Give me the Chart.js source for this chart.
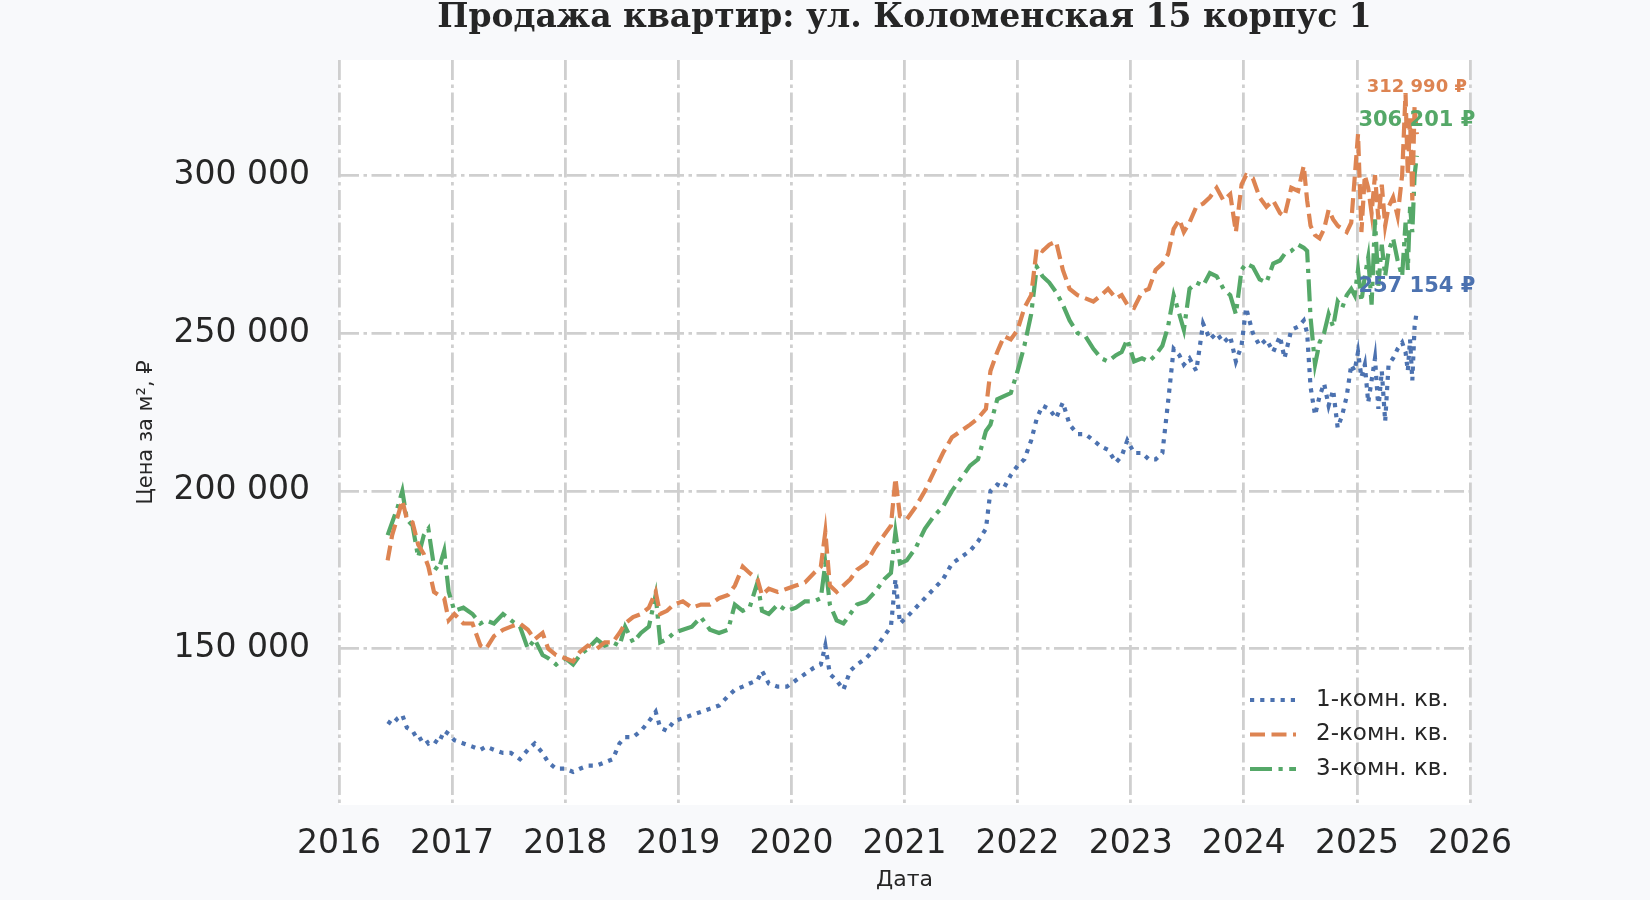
<!DOCTYPE html>
<html>
<head>
<meta charset="utf-8">
<title>Продажа квартир</title>
<script src="https://cdn.jsdelivr.net/npm/chart.js@4.4.0/dist/chart.umd.min.js"></script>
<style>
    body { margin: 0; background: #f8f9fb; }
    canvas { display: block; }
</style>
</head>
<body>
<canvas id="chart" width="1650" height="900"></canvas>
<script>
// chart text
const chart_title = "Продажа квартир: ул. Коломенская 15 корпус 1";
const x_title = "Дата";
const y_title = "Цена за м², ₽";
const series_names = ["1-комн. кв.", "2-комн. кв.", "3-комн. кв."];

// ticks
const year_ticks = [2016, 2017, 2018, 2019, 2020, 2021, 2022, 2023, 2024, 2025, 2026];
const price_ticks = [150000, 200000, 250000, 300000];

// dates as decimal years
const dates = [
    2016.43,2016.47,2016.52,2016.56,2016.60,2016.65,2016.70,2016.75,2016.79,2016.84,2016.88,2016.93,2016.97,
    2017.02,2017.10,2017.18,2017.25,2017.30,2017.37,2017.45,2017.52,2017.60,2017.67,2017.73,2017.80,2017.85,2017.92,
    2018.00,2018.07,2018.13,2018.20,2018.28,2018.35,2018.42,2018.48,2018.53,2018.60,2018.67,2018.74,2018.80,2018.84,2018.90,2018.96,
    2019.04,2019.12,2019.20,2019.28,2019.36,2019.44,2019.50,2019.57,2019.63,2019.70,2019.74,2019.80,2019.88,2019.96,
    2020.04,2020.12,2020.20,2020.26,2020.30,2020.34,2020.40,2020.46,2020.52,2020.58,2020.66,2020.74,2020.82,2020.88,2020.92,2020.96,
    2021.02,2021.10,2021.18,2021.26,2021.34,2021.42,2021.50,2021.58,2021.65,2021.72,2021.76,2021.82,2021.88,2021.94,
    2022.00,2022.06,2022.12,2022.17,2022.22,2022.28,2022.34,2022.40,2022.46,2022.53,2022.60,2022.67,2022.74,2022.80,2022.87,2022.92,2022.97,
    2023.03,2023.10,2023.16,2023.22,2023.28,2023.33,2023.38,2023.43,2023.47,2023.52,2023.58,2023.64,2023.70,2023.76,2023.82,2023.88,2023.93,2023.98,
    2024.02,2024.08,2024.14,2024.20,2024.26,2024.32,2024.36,2024.42,2024.48,2024.53,2024.56,2024.59,2024.63,2024.67,2024.71,2024.75,2024.79,2024.83,2024.87,2024.91,2024.95,2024.98,
    2025.01,2025.04,2025.07,2025.10,2025.13,2025.16,2025.19,2025.22,2025.25,2025.28,2025.32,2025.36,2025.40,2025.43,2025.45,2025.47,2025.49,2025.51,2025.53
];

// price per m2, 1 room
const one_room = [
    127000,126000,128000,129000,125000,124000,121000,122000,120000,121000,120000,124000,123000,
    121000,120000,119000,118000,119000,118000,117000,117000,115000,118000,120000,117000,114000,112000,
    112000,111000,112000,113000,113000,114000,115000,120000,122000,122000,124000,127000,130000,125000,124000,127000,
    128000,129000,130000,131000,132000,135000,137000,138000,139000,140000,143000,139000,138000,138000,
    140000,142000,144000,145000,151000,142000,140000,137000,143000,145000,147000,150000,154000,157000,172000,158000,
    160000,163000,166000,169000,172000,177000,179000,181000,184000,188000,200000,202000,201000,205000,
    208000,210000,216000,223000,227000,226000,223000,228000,221000,218000,218000,216000,214000,213000,209000,211000,216000,
    212000,212000,210000,210000,212000,228000,245000,243000,240000,242000,238000,253000,248000,250000,247000,249000,241000,246000,
    258000,250000,246000,248000,244000,249000,242000,251000,252000,254000,250000,233000,224000,230000,234000,227000,232000,220000,224000,230000,240000,238000,
    244000,236000,240000,228000,235000,242000,226000,238000,222000,240000,242000,245000,247000,244000,238000,248000,235000,252000,257154
];

// price per m2, 2 rooms
const two_room = [
    178000,186000,192000,197000,191000,190000,183000,180000,176000,168000,167000,166000,159000,
    161000,158000,158000,151000,150000,154000,156000,157000,158000,156000,153000,155000,150000,148000,
    147000,146000,149000,151000,150000,152000,152000,155000,158000,160000,161000,163000,168000,161000,162000,164000,
    165000,163000,164000,164000,166000,167000,170000,176000,174000,172000,167000,169000,168000,169000,
    170000,171000,174000,176000,187000,170000,168000,170000,172000,175000,177000,182000,186000,189000,204000,192000,
    191000,195000,200000,206000,212000,217000,219000,221000,223000,226000,238000,244000,249000,248000,
    251000,258000,262000,277000,276000,278000,279000,270000,264000,262000,261000,260000,262000,264000,261000,262000,259000,
    258000,263000,264000,270000,272000,275000,283000,286000,282000,285000,290000,291000,293000,296000,292000,294000,282000,297000,
    300000,299000,293000,290000,292000,288000,287000,296000,295000,303000,292000,284000,281000,280000,283000,289000,286000,284000,283000,282000,285000,299000,
    313000,282000,300000,296000,288000,300000,286000,297000,284000,290000,293000,287000,300000,326000,300000,318000,292000,322000,312990
];

// price per m2, 3 rooms
const three_room = [
    186000,190000,195000,200000,191000,189000,179000,186000,188000,176000,175000,181000,168000,
    162000,163000,161000,158000,159000,158000,161000,159000,157000,150000,153000,148000,147000,145000,
    147000,145000,148000,150000,153000,151000,152000,151000,157000,152000,155000,157000,167000,152000,153000,155000,
    156000,157000,160000,156000,155000,156000,164000,162000,163000,171000,162000,161000,164000,162000,
    163000,165000,165000,166000,177000,164000,159000,158000,161000,164000,165000,168000,172000,174000,187000,177000,
    178000,182000,188000,192000,195000,200000,204000,208000,210000,219000,221000,229000,230000,231000,
    238000,246000,256000,271000,268000,266000,263000,259000,254000,250000,249000,245000,242000,241000,243000,244000,248000,
    241000,242000,241000,243000,246000,252000,262000,256000,251000,264000,266000,265000,269000,268000,264000,262000,256000,270000,
    272000,271000,267000,266000,272000,273000,275000,276000,278000,277000,276000,255000,240000,247000,250000,256000,252000,260000,258000,262000,264000,262000,
    270000,260000,268000,274000,259000,286000,265000,278000,268000,276000,280000,273000,268000,285000,270000,290000,282000,300000,306201
];

// group thousands with a space: 300000 -> "300 000"
function fmt_price( v ) {
    return String(Math.round(v)).replace(/\B(?=(\d{3})+(?!\d))/g, " ");
}

function make_points( values ) {
    return dates.map(function(d, i) { return {x: d, y: values[i]}; });
}

const text_color = "#262626";
const grid_color = "#cfcfcf";

// white plot area on a light figure
const plot_bg = {
    id: "plot_bg",
    beforeDraw(chart) {
        const a = chart.chartArea;
        const ctx = chart.ctx;
        ctx.save();
        ctx.fillStyle = "#ffffff";
        ctx.fillRect(a.left, a.top, a.right - a.left, a.bottom - a.top);
        ctx.restore();
    }
};

// serif title above the plot
const title_text = {
    id: "title_text",
    afterDraw(chart) {
        const a = chart.chartArea;
        const ctx = chart.ctx;
        ctx.save();
        ctx.font = "bold 33px 'DejaVu Serif'";
        ctx.fillStyle = text_color;
        ctx.textAlign = "center";
        ctx.textBaseline = "middle";
        ctx.fillText(chart_title, (a.left + a.right) / 2, 18);
        ctx.restore();
    }
};

// last value labels at the end of each line
const end_labels = {
    id: "end_labels",
    afterDatasetsDraw(chart) {
        const ctx = chart.ctx;
        const sizes = [21, 18, 21];
        const lifts = [24, 47, 35];
        ctx.save();
        ctx.textAlign = "center";
        ctx.textBaseline = "middle";
        chart.data.datasets.forEach(function(ds, i) {
            const meta = chart.getDatasetMeta(i);
            const pt = meta.data[meta.data.length - 1];
            const val = ds.data[ds.data.length - 1].y;
            ctx.font = "bold " + sizes[i] + "px 'DejaVu Sans'";
            ctx.fillStyle = ds.borderColor;
            ctx.fillText(fmt_price(val) + " ₽", pt.x, pt.y - lifts[i]);
        });
        ctx.restore();
    }
};

// legend in the lower right corner of the plot, with dash samples
const line_legend = {
    id: "line_legend",
    afterDraw(chart) {
        const a = chart.chartArea;
        const ctx = chart.ctx;
        const x0 = a.right - 220;
        const y0 = a.bottom - 105;
        ctx.save();
        ctx.font = "23px 'DejaVu Sans'";
        ctx.textBaseline = "middle";
        chart.data.datasets.forEach(function(ds, i) {
            const y = y0 + i * 34.5;
            ctx.strokeStyle = ds.borderColor;
            ctx.lineWidth = ds.borderWidth;
            ctx.setLineDash(ds.borderDash);
            ctx.beginPath();
            ctx.moveTo(x0, y);
            ctx.lineTo(x0 + 46, y);
            ctx.stroke();
            ctx.setLineDash([]);
            ctx.fillStyle = text_color;
            ctx.fillText(ds.label, x0 + 66, y);
        });
        ctx.restore();
    }
};

const grid_opts = {
    color: grid_color,
    lineWidth: 2.8,
    drawTicks: false
};

const config = {
    type: "line",
    data: {
        datasets: [
            {
                label: series_names[0],
                data: make_points(one_room),
                borderColor: "#4c72b0",
                borderWidth: 4.2,
                borderDash: [4.2, 6]
            },
            {
                label: series_names[1],
                data: make_points(two_room),
                borderColor: "#dd8452",
                borderWidth: 4.2,
                borderDash: [15, 6.5]
            },
            {
                label: series_names[2],
                data: make_points(three_room),
                borderColor: "#55a868",
                borderWidth: 4.2,
                borderDash: [22, 6.5, 4.2, 6.5]
            }
        ]
    },
    options: {
        responsive: false,
        devicePixelRatio: 1,
        animation: false,
        layout: { padding: { left: 130, right: 180, top: 60, bottom: 4 } },
        elements: {
            point: { radius: 0 },
            line: { tension: 0, borderCapStyle: "butt", borderJoinStyle: "miter" }
        },
        plugins: {
            legend: { display: false },
            tooltip: { enabled: false }
        },
        scales: {
            x: {
                type: "linear",
                min: 2016,
                max: 2026,
                grid: grid_opts,
                border: { display: false, dash: [20, 4.5, 3.5, 4.5] },
                afterBuildTicks: function(scale) {
                    scale.ticks = year_ticks.map(function(v) { return {value: v}; });
                },
                afterFit: function(scale) { scale.height = 91; },
                ticks: {
                    padding: 20,
                    maxRotation: 0,
                    color: text_color,
                    font: { family: "DejaVu Sans", size: 33 },
                    callback: function(v) { return String(v); }
                },
                title: {
                    display: true,
                    text: x_title,
                    color: text_color,
                    padding: { top: 0, bottom: 3 },
                    font: { family: "DejaVu Sans", size: 22 }
                }
            },
            y: {
                type: "linear",
                min: 100500,
                max: 336500,
                grid: grid_opts,
                border: { display: false, dash: [20, 4.5, 3.5, 4.5] },
                afterBuildTicks: function(scale) {
                    scale.ticks = price_ticks.map(function(v) { return {value: v}; });
                },
                afterFit: function(scale) { scale.width = 209; },
                ticks: {
                    padding: 29,
                    color: text_color,
                    font: { family: "DejaVu Sans", size: 33 },
                    callback: function(v) { return fmt_price(v); }
                },
                title: {
                    display: true,
                    text: y_title,
                    color: text_color,
                    padding: { top: 4, bottom: 0 },
                    font: { family: "DejaVu Sans", size: 21 }
                }
            }
        }
    },
    plugins: [plot_bg, title_text, end_labels, line_legend]
};

const myChart = new Chart(document.getElementById("chart"), config);
</script>
</body>
</html>
